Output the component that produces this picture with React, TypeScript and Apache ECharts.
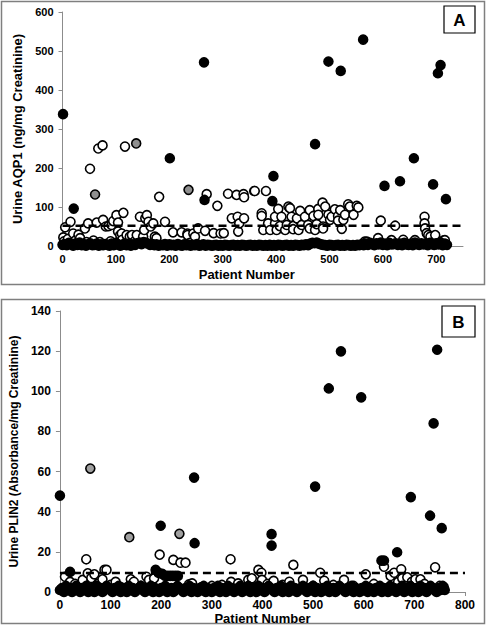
import React, { useEffect, useRef } from "react";
import * as echarts from "echarts";

// ---------- Panel A : Urine AQP1 ----------
const aqp1BandStep = 4; // patient numbers 0,4,8,... (dense near-zero band)
const aqp1Band = [
  3, 5, 2, 8, 4, 1, 6, 3, 9, 2,
  5, 1, 4, 7, 2, 3, 6, 1, 4, 2,
  5, 3, 1, 6, 2, 8, 4, 1, 3, 5,
  2, 6, 1, 4, 3, 7, 9, 5, 10, 8,
  6, 3, 5, 2, 4, 1, 3, 2, 5, 1,
  4, 2, 3, 1, 5, 2, 1, 4, 2, 3,
  1, 3, 2, 5, 1, 2, 4, 1, 3, 2,
  1, 2, 3, 1, 2, 1, 3, 2, 1, 2,
  3, 1, 2, 1, 3, 2, 1, 2, 3, 1,
  2, 1, 3, 2, 1, 2, 1, 3, 1, 2,
  1, 3, 2, 1, 2, 3, 1, 2, 1, 3,
  2, 1, 3, 2, 4, 2, 6, 8, 7, 9,
  6, 4, 3, 2, 1, 3, 2, 1, 2, 3,
  1, 2, 1, 3, 2, 1, 2, 1, 3, 2,
  4, 2, 6, 3, 8, 5, 2, 7, 4, 9,
  3, 6, 2, 8, 4, 5, 7, 3, 6, 2,
  8, 4, 3, 6, 2, 9, 5, 3, 7, 4,
  6, 2, 8, 5, 3, 7, 4, 9, 2, 6,
  3,
];
const aqp1Open: [number, number][] = [
  [1.5, 22], [3, 12], [5, 48], [10, 18], [15, 62], [20, 32], [25, 15], [28, 8], [30, 29],
  [33, 20], [42, 45], [45, 10], [48, 58], [51.5, 198], [58, 14], [64, 60], [67, 250],
  [70, 10], [75, 258], [76, 67], [81, 50], [86, 51], [90, 12], [92, 54], [95, 64],
  [101, 79], [104, 60], [104, 37], [108, 28], [111, 32], [112, 16], [114, 85],
  [117, 255], [118, 8], [120, 28], [126, 24], [130, 28], [135, 12], [139, 28],
  [145, 75], [151, 24], [153, 41], [155, 71], [158, 79], [161, 62], [165, 50],
  [170, 58], [173, 24], [176, 20], [181, 126], [192, 62], [207, 35], [223, 35],
  [234, 32], [234, 28], [239, 8], [245, 32], [248, 24], [254, 45], [267, 39],
  [270, 133], [283, 33], [290, 103], [296, 32], [302, 33], [310, 134], [317, 71],
  [326, 131], [328, 75], [329, 37], [331, 58], [339, 133], [340, 71], [340, 125],
  [359, 141], [360, 141], [373, 84], [373, 77], [381, 141],
  [376, 41], [385, 58], [389, 41], [398, 58], [398, 75], [401, 41], [404, 95],
  [407, 51], [410, 75], [417, 41], [420, 54], [423, 101], [426, 97], [429, 75],
  [432, 51], [432, 43], [439, 71], [442, 41], [445, 90], [448, 54], [454, 75],
  [460, 54], [463, 92], [463, 45], [470, 77], [473, 41], [476, 56], [479, 95],
  [479, 80], [487, 111], [488, 50], [488, 45], [492, 101], [498, 80], [501, 67],
  [504, 75], [510, 94], [516, 77], [516, 65], [520, 92], [523, 44], [526, 67],
  [529, 80], [535, 107], [538, 101], [545, 80], [551, 103], [554, 99],
  [566, 11], [570, 11], [591, 20], [596, 65], [616, 15], [623, 52], [638, 16],
  [660, 15], [678, 75], [678, 58], [679, 45], [682, 33], [685, 28], [689, 24],
  [698, 28], [713, 14], [716, 15],
];
const aqp1Gray: [number, number][] = [[61, 132], [138, 263], [236, 144]];
const aqp1Black: [number, number][] = [
  [1, 338], [21, 96], [201, 225], [265, 471], [266, 118], [393, 115], [395, 179],
  [473, 261], [498, 473], [521, 449], [563, 529], [603, 154], [632, 166],
  [658, 225], [694, 158], [703, 443], [708, 464], [718, 120],
];
const aqp1Cutoff = 52;

// ---------- Panel B : Urine PLIN2 ----------
const plin2BandStep = 4;
const plin2Band = [
  1, 2, 0, 3, 1, 2, 0, 1, 3, 2,
  0, 2, 1, 3, 0, 1, 2, 0, 3, 1,
  2, 0, 1, 3, 2, 1, 0, 2, 1, 3,
  0, 1, 2, 0, 3, 1, 2, 0, 1, 2,
  3, 1, 0, 2, 1, 3, 0, 2, 1, 0,
  2, 1, 3, 0, 1, 2, 0, 1, 3, 2,
  1, 0, 2, 1, 3, 0, 2, 1, 0, 2,
  1, 3, 0, 2, 1, 0, 2, 1, 3, 0,
  2, 1, 0, 3, 1, 2, 0, 1, 2, 3,
  0, 2, 1, 3, 0, 1, 2, 0, 3, 1,
  2, 0, 1, 3, 2, 1, 0, 2, 1, 3,
  0, 1, 2, 0, 3, 1, 2, 0, 1, 2,
  3, 1, 0, 2, 1, 3, 0, 2, 1, 0,
  2, 1, 3, 0, 1, 2, 0, 1, 3, 2,
  1, 0, 2, 1, 3, 0, 2, 1, 0, 2,
  1, 3, 0, 2, 1, 0, 2, 1, 3, 0,
  2, 1, 0, 3, 1, 2, 0, 1, 2, 3,
  0, 2, 1, 3, 0, 1, 2, 0, 3, 1,
  2, 0, 1, 3, 2, 1, 0, 2, 1, 3,
  1,
];
const plin2Open: [number, number][] = [
  [10, 7.6], [20, 5], [30, 4], [45, 6], [52, 16.3], [55, 9.3], [62, 7], [68, 8.8],
  [75, 4], [84, 6.3], [88, 11], [92, 11], [100, 3.5], [110, 5], [120, 2.5],
  [140, 6.3], [146, 5.1], [160, 3], [171, 7.6], [176, 6], [186, 6.8], [197, 18.6],
  [224, 16], [238, 14.6], [248, 14.6], [255, 3.8], [261, 4.3], [280, 2.5],
  [300, 3], [320, 3.5], [337, 16.3], [338, 5], [352, 4.3], [372, 6], [379, 6.8],
  [392, 11], [398, 9.6], [399, 6], [410, 4], [422, 5.5], [440, 3.5], [453, 5.1],
  [461, 13.5], [480, 6], [500, 3], [514, 9.6], [522, 5.6], [540, 3.5], [561, 6],
  [580, 3], [604, 8.8], [620, 4], [640, 12.6], [653, 8], [660, 9.6], [668, 5],
  [674, 11.3], [676, 6.8], [686, 7.3], [695, 5], [702, 6.3], [712, 6.3],
  [720, 4], [741, 12.3], [750, 3], [758, 2.5],
];
const plin2Gray: [number, number][] = [[60, 61.5], [137, 27.3], [236, 29]];
const plin2Black: [number, number][] = [
  [0, 48], [20, 10], [189, 11], [195, 9.5], [199, 33], [202, 9], [208, 8],
  [213, 8], [218, 8], [223, 8], [228, 8], [233, 8], [265, 57], [266, 24.3],
  [418, 28.8], [418, 23.1], [504, 52.5], [531, 101.4], [555, 119.9], [595, 97],
  [635, 15.6], [640, 15.6], [666, 19.8], [693, 47.3], [731, 38], [738, 84],
  [745, 120.7], [754, 31.8],
];
const plin2Cutoff = 9.5;

const FONT = '"Liberation Sans", Arial, sans-serif';
const AXIS_GRAY = "#8c8c8c";

function scatter(
  data: [number, number][],
  idx: number,
  fill: string,
  size: number,
  z: number
) {
  return {
    type: "scatter",
    xAxisIndex: idx,
    yAxisIndex: idx,
    data,
    symbol: "circle",
    symbolSize: size,
    itemStyle: { color: fill, borderColor: "#000", borderWidth: 1.6, opacity: 1 },
    z,
    silent: true,
  };
}

function cutoffLine(y: number, xEnd: number, idx: number) {
  return {
    type: "line",
    xAxisIndex: idx,
    yAxisIndex: idx,
    data: [
      [0, y],
      [xEnd, y],
    ],
    symbol: "none",
    lineStyle: { color: "#000", width: 2.5, type: [8, 5] },
    z: 10,
    silent: true,
  };
}

function valueAxis(
  gridIndex: number,
  min: number,
  max: number,
  interval: number,
  fontSize: number,
  margin: number,
  extra: any
) {
  return {
    type: "value",
    gridIndex,
    min,
    max,
    interval,
    splitLine: { show: false },
    axisLine: { show: true, lineStyle: { color: AXIS_GRAY, width: 1 } },
    axisTick: { show: true, length: 4, lineStyle: { color: AXIS_GRAY } },
    axisLabel: {
      fontFamily: FONT,
      fontWeight: "bold",
      fontSize,
      color: "#000",
      margin,
    },
    nameLocation: "middle",
    ...extra,
  };
}

export default function App() {
  const ref = useRef<HTMLDivElement>(null);

  useEffect(() => {
    if (!ref.current) return;
    const chart = echarts.init(ref.current, null, { renderer: "svg" });

    const aBand: [number, number][] = aqp1Band.map((v, i) => [i * aqp1BandStep, v]);
    const bBand: [number, number][] = plin2Band.map((v, i) => [i * plin2BandStep, v]);

    const option: any = {
      animation: false,
      backgroundColor: "#fff",
      grid: [
        { left: 62.5, top: 12, width: 400.5, height: 234 },
        { left: 57, top: 311, width: 408, height: 281 },
      ],
      xAxis: [
        valueAxis(0, 0, 750, 100, 11, 7, {
          name: "Patient Number",
          nameGap: 22,
          nameTextStyle: {
            fontFamily: FONT,
            fontWeight: "bold",
            fontSize: 13,
            color: "#000",
            padding: [0, 32, 0, 0],
          },
          axisLabel: {
            fontFamily: FONT,
            fontWeight: "bold",
            fontSize: 11,
            color: "#000",
            margin: 7,
            showMaxLabel: false,
          },
        }),
        valueAxis(1, 0, 800, 100, 12, 7, {
          name: "Patient Number",
          nameGap: 18,
          nameTextStyle: {
            fontFamily: FONT,
            fontWeight: "bold",
            fontSize: 13,
            color: "#000",
          },
        }),
      ],
      yAxis: [
        valueAxis(0, 0, 600, 100, 11, 9, {
          name: "Urine AQP1 (ng/mg Creatinine)",
          nameGap: 39,
          nameTextStyle: {
            fontFamily: FONT,
            fontWeight: "bold",
            fontSize: 13,
            color: "#000",
          },
        }),
        valueAxis(1, 0, 140, 20, 12, 9, {
          name: "Urine PLIN2 (Absorbance/mg Creatinine)",
          nameGap: 35,
          nameTextStyle: {
            fontFamily: FONT,
            fontWeight: "bold",
            fontSize: 12,
            color: "#000",
          },
        }),
      ],
      series: [
        scatter(aqp1Open, 0, "#fff", 9, 2),
        scatter(aBand, 0, "#000", 9, 3),
        scatter(aqp1Gray, 0, "#8f8f8f", 9, 4),
        scatter(aqp1Black, 0, "#000", 9, 5),
        cutoffLine(aqp1Cutoff, 748, 0),
        scatter(plin2Open, 1, "#fff", 9, 2),
        scatter(bBand, 1, "#000", 9, 3),
        scatter(plin2Gray, 1, "#a0a0a0", 9, 4),
        scatter(plin2Black, 1, "#000", 9, 5),
        cutoffLine(plin2Cutoff, 800, 1),
      ],
      graphic: [
        {
          type: "rect",
          shape: { x: 1.5, y: 1.5, width: 483, height: 283 },
          style: { fill: "none", stroke: "#7f7f7f", lineWidth: 1.5 },
          silent: true,
          z: -1,
        },
        {
          type: "rect",
          shape: { x: 1.5, y: 299.5, width: 483, height: 324 },
          style: { fill: "none", stroke: "#7f7f7f", lineWidth: 1.5 },
          silent: true,
          z: -1,
        },
        {
          type: "rect",
          shape: { x: 444, y: 6, width: 31, height: 27 },
          style: { fill: "#fff", stroke: "#000", lineWidth: 1.2 },
          z: 20,
        },
        {
          type: "text",
          x: 459.5,
          y: 20,
          style: {
            text: "A",
            fontFamily: FONT,
            fontWeight: "bold",
            fontSize: 17,
            fill: "#000",
            align: "center",
            verticalAlign: "middle",
          },
          z: 21,
        },
        {
          type: "rect",
          shape: { x: 442, y: 306, width: 33, height: 31 },
          style: { fill: "#fff", stroke: "#000", lineWidth: 1.2 },
          z: 20,
        },
        {
          type: "text",
          x: 458.5,
          y: 322,
          style: {
            text: "B",
            fontFamily: FONT,
            fontWeight: "bold",
            fontSize: 17,
            fill: "#000",
            align: "center",
            verticalAlign: "middle",
          },
          z: 21,
        },
      ],
    };

    chart.setOption(option);
    return () => chart.dispose();
  }, []);

  return (
    <div
      ref={ref}
      style={{ position: "fixed", left: 0, top: 0, width: 488, height: 628, background: "#fff" }}
    />
  );
}
